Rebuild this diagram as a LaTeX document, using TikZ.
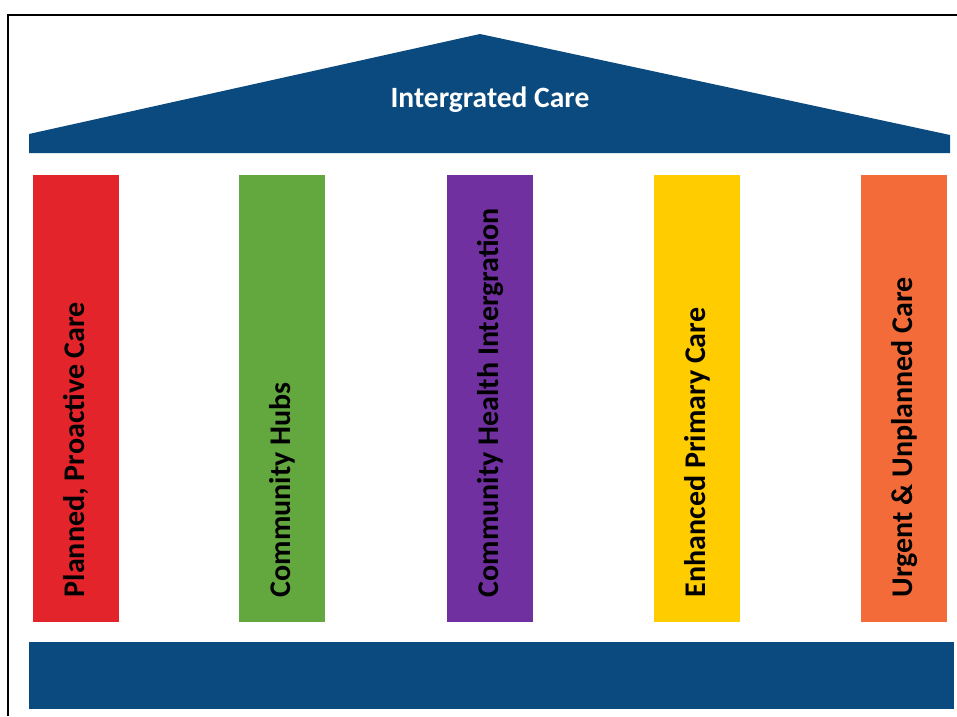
\documentclass[tikz,border=0pt]{standalone}
\usepackage{fontspec}
\setmainfont{Carlito}
\definecolor{roofblue}{HTML}{0B4A7E}
\definecolor{pillred}{HTML}{E3242B}
\definecolor{pillgreen}{HTML}{62A83F}
\definecolor{pillpurple}{HTML}{7030A0}
\definecolor{pillyellow}{HTML}{FFCC00}
\definecolor{pillorange}{HTML}{F26B38}
\tikzset{
  pillar/.style={minimum width=86pt, minimum height=447pt, inner sep=0pt, anchor=north west},
  pilltext/.style={rotate=90, anchor=west, inner sep=0pt, font=\bfseries\fontsize{30}{34}\selectfont}
}

\begin{document}
\begin{tikzpicture}[x=1pt,y=-1pt]
      \useasboundingbox (0,0) rectangle (957,716);
      \coordinate (frameB) at (8,716);
      \coordinate (frameC) at (8,15);
      \coordinate (frameR) at (957,15);
      \draw[line width=1.5pt] (frameB) -- (frameC) -- (frameR);
      % roof
      \coordinate (A) at (29,153);
      \coordinate (B) at (29,134);
      \coordinate (C) at (480,34);
      \coordinate (D) at (950,135);
      \coordinate (E) at (950,153);
      \fill[roofblue] (A) -- (B) -- (C) -- (D) -- (E) -- cycle;
      \node[text=white, font=\bfseries\fontsize{29.5}{34}\selectfont] (roof) at (490,100) {Intergrated Care};
      % pillars
      \foreach \x/\col/\name/\txt in {33/pillred/p1/{Planned, Proactive Care},
                                      239/pillgreen/p2/{Community Hubs},
                                      447/pillpurple/p3/{Community Health Intergration},
                                      654/pillyellow/p4/{Enhanced Primary Care},
                                      861/pillorange/p5/{Urgent \& Unplanned Care}} {
        \node[pillar, fill=\col] (\name) at (\x,175) {};
        \node[pilltext] (\name-t) at ([yshift=25pt]\name.south) {\txt};
      }
      % base
      \node[fill=roofblue, minimum width=925pt, minimum height=67pt, inner sep=0pt, anchor=north west] (base) at (29,642) {};
    \end{tikzpicture}
\end{document}
